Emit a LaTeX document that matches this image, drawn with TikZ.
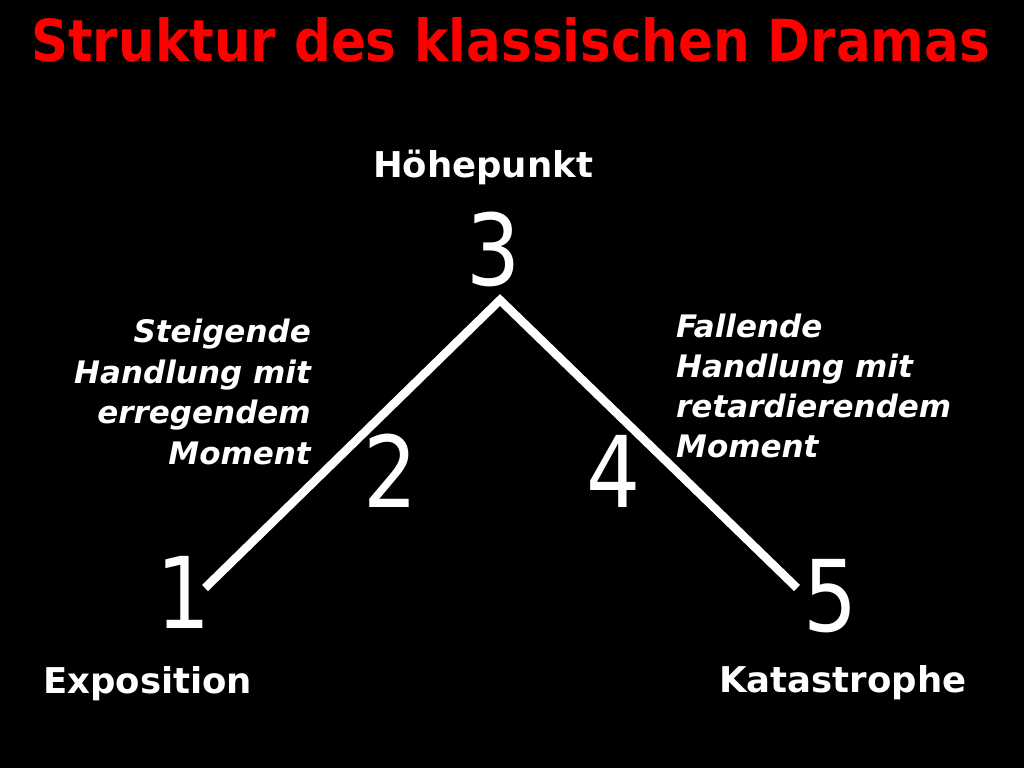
\documentclass[tikz,border=0pt]{standalone}
\usepackage{fontspec}
\setmainfont{DejaVu Sans}[ItalicFont={DejaVu Sans Oblique},BoldFont={DejaVu Sans Bold},BoldItalicFont={DejaVu Sans Bold Oblique}]
\definecolor{titlered}{RGB}{255,0,0}
\newcommand{\narrowdigit}[1]{\scalebox{0.86}[1]{#1}}
\begin{document}
\begin{tikzpicture}[x=1pt,y=-1pt,
  lbl/.style={text=white,font=\fontsize{35.5}{42}\selectfont\bfseries,inner sep=0pt},
  num/.style={text=white,font=\fontsize{99}{110}\selectfont,inner sep=0pt},
  desc/.style={text=white,font=\fontsize{31}{41}\selectfont\bfseries\itshape,inner sep=0pt},
  ramp/.style={draw=white,line width=8.5pt,line join=miter,line cap=butt}]
\fill[black] (0,0) rectangle (1024,768);
\useasboundingbox (0,0) rectangle (1024,768);
\node[anchor=base west,inner sep=0pt,text=titlered] (title) at (31,62) {\resizebox{959pt}{44pt}{\bfseries Struktur des klassischen Dramas}};
\coordinate (p1) at (205,588);
\coordinate (p3) at (500,300);
\coordinate (p5) at (797,588);
\draw[ramp] (p1) -- (p3) -- (p5);
\node[num,anchor=base] (n1) at (184,628) {\narrowdigit{1}};
\node[num,anchor=base] (n2) at (391,507) {\narrowdigit{2}};
\node[num,anchor=base] (n3) at (494,285) {\narrowdigit{3}};
\node[num,anchor=base] (n4) at (614,507) {\narrowdigit{4}};
\node[num,anchor=base] (n5) at (831,631) {\narrowdigit{5}};
\node[lbl,anchor=base] (hp) at (483,177) {Höhepunkt};
\node[lbl,anchor=base west] (expo) at (43,693) {Exposition};
\node[lbl,anchor=base west] (kata) at (719,692) {Katastrophe};
\node[desc,anchor=base east] (s1) at (311,342) {Steigende};
\node[desc,anchor=base east] (s2) at (311,383) {Handlung mit};
\node[desc,anchor=base east] (s3) at (311,423) {erregendem};
\node[desc,anchor=base east] (s4) at (311,464) {Moment};
\node[desc,anchor=base west] (f1) at (676,337) {Fallende};
\node[desc,anchor=base west] (f2) at (676,377) {Handlung mit};
\node[desc,anchor=base west] (f3) at (676,417) {retardierendem};
\node[desc,anchor=base west] (f4) at (676,457) {Moment};
\end{tikzpicture}
\end{document}
